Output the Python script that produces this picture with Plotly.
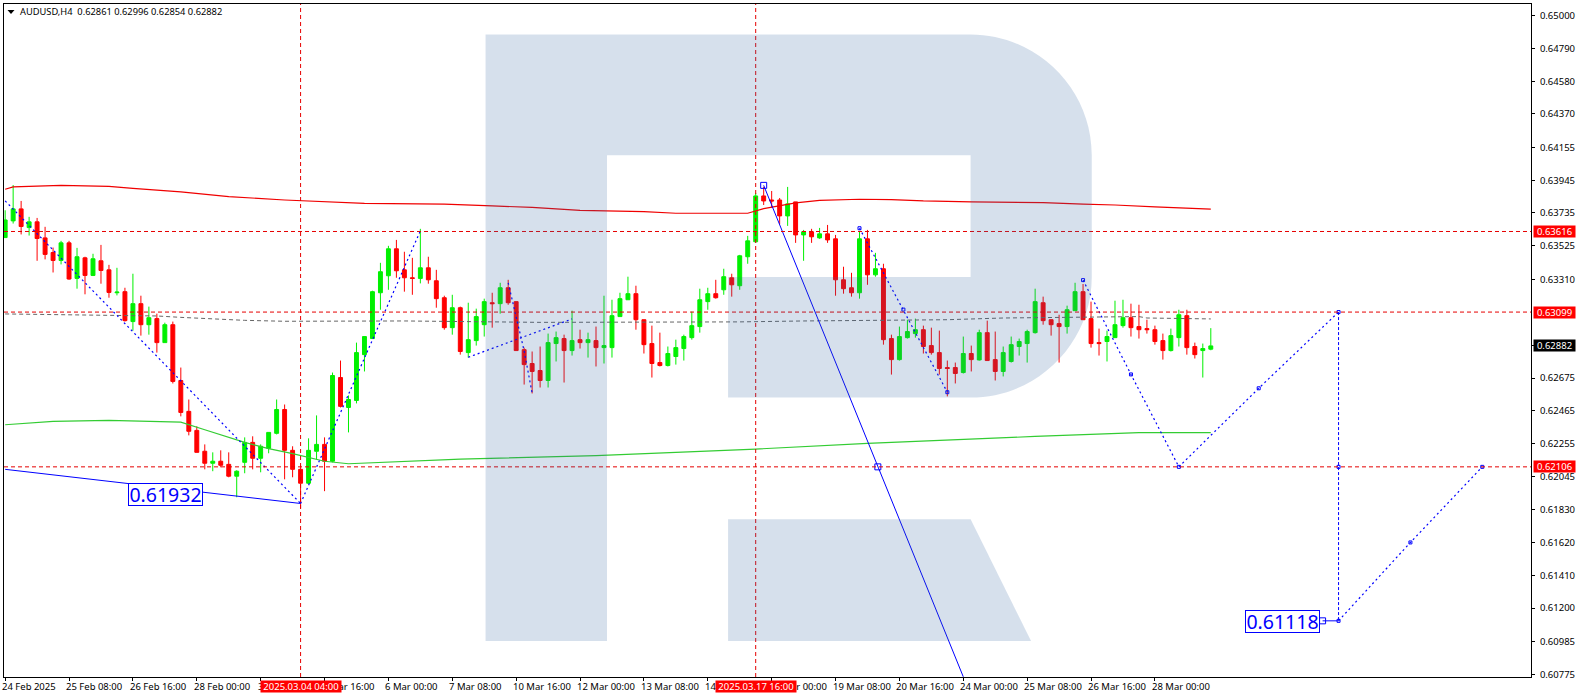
import plotly.graph_objects as go

# ---------- candle data (AUDUSD H4) ----------
opens = [.63577,.63684,.63761,.63641,.63678,.63575,.63481,.63430,.63543,.63315,.63447,.63334,.63428,.63370,.63223,.63230,.63038,.63153,.63018,.63057,
.62903,.63018,.62660,.62462,.62340,.62206,.62129,.62142,.62122,.62046,.62135,.62263,.62161,.62225,.62321,.62474,.62212,.62090,.62001,.62206,
.62250,.62142,.62679,.62487,.62532,.62826,.62929,.63223,.63332,.63505,.63370,.63319,.63315,.63383,.63300,.63191,.62999,.63127,.62839,.62916,
.63018,.63159,.63153,.63255,.63166,.62858,.62769,.62724,.62660,.62897,.62929,.62852,.62922,.62903,.62916,.62871,.62871,.63070,.63178,.63217,
.63050,.62897,.62775,.62756,.62814,.62865,.62935,.63006,.63166,.63217,.63242,.63319,.63268,.63454,.63550,.63844,.63818,.63818,.63716,.63806,
.63594,.63614,.63575,.63601,.63569,.63306,.63255,.63223,.63569,.63338,.63377,.62929,.62794,.62935,.62961,.62986,.62884,.62839,.62743,.62743,
.62711,.62833,.62792,.62967,.62794,.62718,.62782,.62878,.62897,.62967,.63159,.63050,.63025,.63006,.63108,.63230,.63057,.62903,.62910,.62935,
.63012,.63063,.63006,.62993,.62986,.62916,.62852,.62935,.63076,.62878,.62852,.62861]
highs = [.63752,.63914,.63812,.63710,.63703,.63646,.63513,.63556,.63556,.63511,.63454,.63473,.63530,.63402,.63383,.63255,.63345,.63204,.63134,.63089,
.63031,.63038,.62743,.62538,.62366,.62250,.62199,.62212,.62199,.62084,.62295,.62302,.62250,.62327,.62538,.62506,.62238,.62116,.62289,.62436,
.62295,.62711,.62788,.62564,.62903,.62942,.63236,.63415,.63524,.63562,.63486,.63447,.63633,.63454,.63370,.63204,.63210,.63134,.63159,.63121,
.63185,.63223,.63287,.63306,.63166,.62871,.62846,.62878,.62961,.62974,.62954,.63108,.62986,.62967,.63006,.63204,.63178,.63223,.63326,.63268,
.63050,.63012,.62967,.62878,.62922,.62954,.63102,.63249,.63255,.63306,.63377,.63345,.63466,.63588,.63863,.63902,.63876,.63831,.63902,.63806,
.63626,.63633,.63639,.63658,.63594,.63390,.63351,.63614,.63626,.63479,.63409,.62954,.63006,.63050,.63057,.63012,.62999,.62980,.62788,.62775,
.62942,.62884,.62986,.63044,.62974,.62878,.62942,.62929,.62986,.63249,.63198,.63050,.63082,.63140,.63287,.63279,.63166,.62993,.62980,.63172,
.63178,.63153,.63146,.63050,.63012,.62961,.62993,.63114,.63114,.62903,.62897,.62996]
lows = [.63577,.63667,.63597,.63590,.63428,.63437,.63353,.63405,.63306,.63249,.63213,.63330,.63281,.63191,.63206,.63038,.62980,.62948,.62954,.62839,
.62903,.62641,.62430,.62308,.62199,.62090,.62078,.62103,.62039,.61911,.62065,.62090,.62071,.62193,.62314,.62026,.62039,.61839,.61994,.62154,
.61950,.62135,.62487,.62327,.62513,.62718,.62929,.63114,.63242,.63319,.63230,.63210,.63283,.63281,.63127,.62986,.62954,.62826,.62807,.62884,
.62942,.62999,.63089,.63146,.62852,.62634,.62577,.62615,.62615,.62782,.62647,.62820,.62865,.62807,.62750,.62769,.62807,.63070,.63178,.62986,
.62833,.62679,.62750,.62750,.62762,.62788,.62922,.62967,.63114,.63185,.63210,.63198,.63242,.63409,.63543,.63786,.63769,.63663,.63652,.63543,
.63428,.63543,.63569,.63543,.63204,.63217,.63198,.63185,.63274,.63326,.62890,.62698,.62788,.62929,.62935,.62833,.62826,.62698,.62558,.62641,
.62705,.62718,.62788,.62788,.62660,.62686,.62775,.62820,.62775,.62961,.63018,.62948,.62775,.62961,.63108,.63050,.62871,.62820,.62782,.62935,
.62999,.62942,.62929,.62961,.62890,.62794,.62846,.62878,.62826,.62801,.62679,.62854]
closes = [.63690,.63761,.63648,.63678,.63571,.63469,.63430,.63543,.63311,.63454,.63334,.63441,.63366,.63225,.63227,.63044,.63153,.63018,.63063,.62903,
.63018,.62654,.62455,.62334,.62199,.62129,.62142,.62116,.62046,.62078,.62263,.62161,.62238,.62327,.62474,.62212,.62090,.62001,.62212,.62250,
.62142,.62692,.62494,.62538,.62839,.62942,.63230,.63358,.63505,.63364,.63319,.63315,.63383,.63306,.63185,.62999,.63127,.62846,.62922,.63070,
.63166,.63153,.63255,.63159,.62852,.62762,.62718,.62660,.62903,.62935,.62852,.62916,.62903,.62922,.62871,.62884,.63076,.63185,.63217,.63050,
.62890,.62769,.62756,.62833,.62871,.62942,.63012,.63178,.63217,.63191,.63326,.63274,.63460,.63556,.63844,.63812,.63812,.63716,.63793,.63594,
.63614,.63582,.63601,.63562,.63306,.63249,.63223,.63569,.63338,.63377,.62922,.62794,.62942,.62974,.62986,.62878,.62839,.62737,.62737,.62705,
.62833,.62794,.62967,.62788,.62718,.62839,.62890,.62910,.62974,.63166,.63044,.63018,.63006,.63114,.63230,.63050,.62897,.62897,.62942,.63018,
.63063,.62999,.62986,.62986,.62910,.62852,.62948,.63082,.62871,.62826,.62865,.62882]
bars = list(range(len(opens)))

# ---------- moving averages ----------
red_ma_x = [0,1,7,13,16,22,28,35,45,52,55,61,66,72,80,84,93,95,99,102,107,111,115,121,130,135,139,144,149,151]
red_ma_y = [.63887,.63902,.63912,.63906,.63893,.63870,.63840,.63818,.63797,.63795,.63791,.63780,.63771,.63752,.63744,.63733,.63733,.63763,.63800,.63816,.63823,.63821,.63812,.63806,.63801,.63791,.63786,.63774,.63761,.63759]
green_ma_x = [0,3,6,13,19,22,25,30,33,36,40,43,57,74,94,108,129,142,151]
green_ma_y = [.62376,.62387,.62398,.62404,.62398,.62393,.62344,.62263,.62223,.62191,.62142,.62126,.62156,.62178,.62220,.62256,.62301,.62325,.62325]
gray_x = [0,19,22,26,30,35,50,67,92,100,118,125,142,143,151]
gray_y = [.63087,.63074,.63065,.63055,.63046,.63040,.63042,.63033,.63036,.63042,.63050,.63061,.63070,.63061,.63055]

# ---------- horizontal and vertical levels ----------
levels = [.63616, .63099, .62106]
level_labels = ["0.63616", "0.63099", "0.62106"]
cursor_bars = [37, 94]
cursor_labels = ["2025.03.04 04:00", "2025.03.17 16:00"]
last_price = .62882
last_label = "0.62882"

# ---------- forecast lines ----------
solid_left_x = [0, 37]
solid_left_y = [.62090, .61871]
solid_right_x = [95, 109.3, 120]
solid_right_y = [.63912, .62106, .60759]
dashed_paths = [
    ([0, 37], [.63812, .61871]),
    ([37, 52], [.61871, .63620]),
    ([63, 64, 65, 66], [.63287, .63060, .62850, .62579]),
    ([58, 71], [.62809, .63055]),
    ([107, 112.5, 118], [.63637, .63115, .62585]),
    ([135, 141, 147], [.63304, .62699, .62106]),
    ([147, 157, 167], [.62106, .62610, .63099]),
    ([167, 176, 185], [.61118, .61621, .62106]),
]
vertical_x = [167, 167, 167]
vertical_y = [.63099, .62106, .61118]
marker_x = [107, 112.5, 118, 135, 141, 147, 157, 167, 167, 167, 176, 185]
marker_y = [.63637, .63115, .62585, .63304, .62699, .62106, .62610, .63099, .62106, .61118, .61621, .62106]
label_a = ("0.61932", 20.1, .61927)
label_b = ("0.61118", 160.0, .61117)
stub_x = [165, 167]
stub_y = [.61118, .61118]

# ---------- axes ----------
y_ticks = [.65000,.64790,.64580,.64370,.64155,.63945,.63735,.63525,.63310,.62882,.62675,.62465,.62255,.62045,.61830,.61620,.61410,.61200,.60985,.60775]
y_tick_text = ["0.65000","0.64790","0.64580","0.64370","0.64155","0.63945","0.63735","0.63525","0.63310","","0.62675","0.62465","0.62255","0.62045","0.61830","0.61620","0.61410","0.61200","0.60985","0.60775"]
x_ticks = list(range(0, 152, 8))
x_tick_text = ["24 Feb 2025","25 Feb 08:00","26 Feb 16:00","28 Feb 00:00","3 Mar 08:00","4 Mar 16:00","6 Mar 00:00","7 Mar 08:00","10 Mar 16:00","12 Mar 00:00","13 Mar 08:00","14 Mar 16:00","18 Mar 00:00","19 Mar 08:00","20 Mar 16:00","24 Mar 00:00","25 Mar 08:00","26 Mar 16:00","28 Mar 00:00"]
header = "AUDUSD,H4  0.62861 0.62996 0.62854 0.62882"

W, H = 1578, 698
L, R, T, B = 2.5, 1532.5, 2.5, 677.0
FONT = "Noto Sans"
FS = 9.5
BLUE = "#0000ff"
RED = "#ff0000"
LIME = "#00f000"

def px(x):
    return (x - L) / (R - L)

def py(y):
    return (B - y) / (B - T)

def path(points, tail=""):
    return "M" + " L".join(f"{px(a):.5f},{py(b):.5f}" for a, b in points) + tail

s_y = 0.04225 / 660
y_range = [.65 - (B - 14.3) * s_y, .65 + (14.3 - T) * s_y]
x_range = [(L - 3.67) / 8, (R - 3.67) / 8]

fig = go.Figure()
fig.add_trace(go.Candlestick(
    x=bars, open=opens, high=highs, low=lows, close=closes,
    increasing=dict(line=dict(color=LIME, width=1), fillcolor=LIME),
    decreasing=dict(line=dict(color=RED, width=1), fillcolor=RED),
    whiskerwidth=0, showlegend=False, hoverinfo="skip"))

def line(x, y, color, width=1, dash="solid"):
    fig.add_trace(go.Scatter(x=x, y=y, mode="lines", line=dict(color=color, width=width, dash=dash),
                             showlegend=False, hoverinfo="skip"))

line(red_ma_x, red_ma_y, "#f00000", 1.2)
line(green_ma_x, green_ma_y, "#33cc33", 1.2)
line(gray_x, gray_y, "#666666", 1, "4px,3px")
for xs, ys in dashed_paths:
    line(xs, ys, BLUE, 1.2, "2px,3px")
line(vertical_x, vertical_y, BLUE, 1, "3px,2px")
line(solid_left_x, solid_left_y, BLUE, 1)
line(solid_right_x, solid_right_y, BLUE, 1)
line(stub_x, stub_y, BLUE, 1)
fig.add_trace(go.Scatter(x=solid_right_x[:2] + stub_x[:1], y=solid_right_y[:2] + stub_y[:1], mode="markers",
                         marker=dict(symbol="square-open", size=6, color=BLUE, line=dict(width=1, color=BLUE)),
                         showlegend=False, hoverinfo="skip"))
fig.add_trace(go.Scatter(x=marker_x, y=marker_y, mode="markers",
                         marker=dict(symbol="square-open", size=3, color=BLUE, line=dict(width=1, color=BLUE)),
                         showlegend=False, hoverinfo="skip"))

shapes = []
for lv in levels:
    shapes.append(dict(type="line", xref="paper", yref="y", x0=0, x1=1, y0=lv, y1=lv,
                       line=dict(color="#e60000", width=1, dash="4px,3px"), layer="above"))
for b in cursor_bars:
    shapes.append(dict(type="line", xref="x", yref="paper", x0=b, x1=b, y0=0, y1=1,
                       line=dict(color="#e60000", width=1, dash="4px,3px"), layer="above"))

# watermark R
r0 = 121
k = 0.55 * r0
wm = "rgba(50,100,160,0.2)"
outer = (f"M{px(485):.5f},{py(33):.5f} L{px(971):.5f},{py(33):.5f} "
         f"C{px(971+k):.5f},{py(33):.5f} {px(1092.4):.5f},{py(154-k):.5f} {px(1092.4):.5f},{py(154):.5f} "
         f"L{px(1092.4):.5f},{py(276):.5f} "
         f"C{px(1092.4):.5f},{py(276+k):.5f} {px(971+k):.5f},{py(397):.5f} {px(971):.5f},{py(397):.5f} "
         f"L{px(728):.5f},{py(397):.5f} L{px(728):.5f},{py(276):.5f} L{px(971):.5f},{py(276):.5f} "
         f"L{px(971):.5f},{py(154):.5f} L{px(606.7):.5f},{py(154):.5f} L{px(606.7):.5f},{py(641):.5f} L{px(485):.5f},{py(641):.5f} Z")
shapes.append(dict(type="path", xref="paper", yref="paper", path=outer, fillcolor=wm, line=dict(width=0), layer="above"))
shapes.append(dict(type="path", xref="paper", yref="paper",
                   path=path([(728, 519), (971, 519), (1031.6, 641), (728, 641)], " Z"),
                   fillcolor=wm, line=dict(width=0), layer="above"))
# header triangle
shapes.append(dict(type="path", xref="paper", yref="paper",
                   path=path([(6, 8.5), (13, 8.5), (9.5, 12.5)], " Z"),
                   fillcolor="#000000", line=dict(width=0), layer="above"))

ann = []
for t, lab in zip(x_ticks, x_tick_text):
    ann.append(dict(x=t, xref="x", y=py(686.7), yref="paper", text=lab, showarrow=False, xanchor="left", xshift=-4,
                    yanchor="middle", borderpad=0, font=dict(family=FONT, size=FS, color="#000000")))
for b, lab in zip(cursor_bars, cursor_labels):
    ann.append(dict(x=b, xref="x", y=py(686.7), yref="paper", text=lab, showarrow=False, xanchor="center",
                    yanchor="middle", width=80, height=11, bgcolor=RED, borderpad=0,
                    font=dict(family=FONT, size=FS, color="#ffffff")))
for lv, lab in zip(levels, level_labels):
    ann.append(dict(x=px(1534.5), xref="paper", y=lv, yref="y", text=lab, showarrow=False, xanchor="left",
                    yanchor="middle", width=41, height=11, bgcolor=RED, borderpad=0,
                    font=dict(family=FONT, size=FS, color="#ffffff")))
ann.append(dict(x=px(1534.5), xref="paper", y=last_price, yref="y", text=last_label, showarrow=False, xanchor="left",
                yanchor="middle", width=41, height=11, bgcolor="#000000", borderpad=0,
                font=dict(family=FONT, size=FS, color="#ffffff")))
ann.append(dict(x=px(18), xref="paper", y=py(10), yref="paper", text=header, showarrow=False, xanchor="left",
                yanchor="middle", borderpad=0, font=dict(family=FONT, size=9.3, color="#000000")))
for txt, xv, yv in (label_a, label_b):
    ann.append(dict(x=xv, xref="x", y=yv, yref="y", text=txt, showarrow=False, xanchor="center", yanchor="middle",
                    width=73, height=21, bgcolor="#ffffff", bordercolor=BLUE, borderwidth=1, borderpad=0,
                    font=dict(family=FONT, size=19.5, color=BLUE)))

fig.update_layout(
    width=W, height=H, autosize=False,
    margin=dict(l=L, r=W - R, t=T, b=H - B, pad=0),
    paper_bgcolor="#ffffff", plot_bgcolor="#ffffff",
    showlegend=False, shapes=shapes, annotations=ann,
    xaxis=dict(range=x_range, tickmode="array", tickvals=x_ticks, ticktext=[""] * len(x_ticks),
               ticks="outside", ticklen=3, tickcolor="#000000", tickwidth=1, showgrid=False, zeroline=False,
               showline=True, linecolor="#000000", linewidth=1, mirror=True,
               rangeslider=dict(visible=False)),
    yaxis=dict(range=y_range, side="right", tickmode="array", tickvals=y_ticks, ticktext=y_tick_text,
               ticks="outside", ticklen=3, tickcolor="#000000", tickwidth=1, ticklabelstandoff=3,
               tickfont=dict(family=FONT, size=FS, color="#000000"),
               showgrid=False, zeroline=False, showline=True, linecolor="#000000", linewidth=1, mirror=True),
)
fig.write_html("out.html", post_script="document.body.style.margin='0';document.body.style.overflow='hidden';",
               config=dict(displayModeBar=False))
